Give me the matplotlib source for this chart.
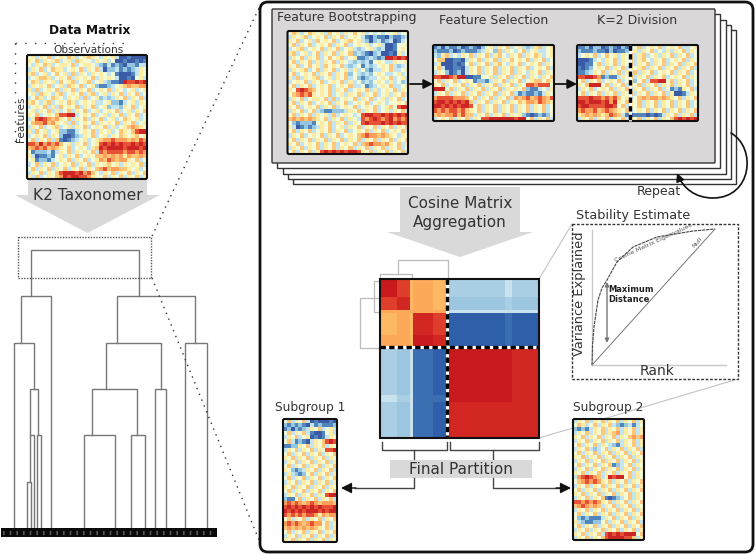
import numpy as np
import matplotlib
matplotlib.use("Agg")
import matplotlib.pyplot as plt
from matplotlib.colors import ListedColormap
from matplotlib.patches import Rectangle, FancyBboxPatch, Polygon, FancyArrowPatch
from matplotlib.path import Path

# Heatmaps: one digit per cell, 0 = dark blue, 4/5 = pale yellow, 9 = dark red
data_matrix = [
    "453546345465345654354530010000",
    "546354563453654435453400100101",
    "435465345546345543213121022133",
    "354634655345463546302231212354",
    "563453464536354354543410001354",
    "345665345463545463545430010453",
    "465354536456345634532110988989",
    "354546345365463452112345676677",
    "536345463546354634546354345345",
    "453654356345463563453546354634",
    "346534654354536345232354635463",
    "564356345465345453345221345354",
    "345463536454635463452332546345",
    "453546353463546345345463453546",
    "546345468899345463453546354634",
    "358987675463546354634534654534",
    "467786754536345463545463546345",
    "354634563453546345463534567654",
    "536453452211345463545346546899",
    "345463542001235463453546545645",
    "463546361012345345677877767687",
    "887978786453546345898989889898",
    "678786765463454356989999899989",
    "412223135463545463878888788787",
    "530112145354634546676767576676",
    "451221345463546345768767754634",
    "346354634546354635456453545463",
    "463546354635463546786776654534",
    "354635468999897864354635463546",
    "536345467989988754463546354635",
]
boot_matrix = [
    "465346545364535464534343445344",
    "354563454635463454310211021123",
    "546345364546345645320231230134",
    "463546345463546345453453001445",
    "345634546354634532345323001454",
    "563453463546354623210230010534",
    "354635463464563451123212998989",
    "463546353546354323231454335445",
    "546346453645463234132345463234",
    "354563463546345353421335463345",
    "463454635463546243232454334534",
    "536354563453546342123345463453",
    "345463546345463534232454353423",
    "463546345463454633412345463345",
    "548987645463546345463534546354",
    "467878545463453546354634535463",
    "354634554636345463546345354634",
    "463546345463546345463454344546",
    "546345463546345463454634564899",
    "354634632112223546354634535463",
    "463546354536345434899889898989",
    "676767654635463543878987897878",
    "421222145463546354898889898988",
    "530121235463453546354635463546",
    "463546345463546345463546345463",
    "354634546354634546787767654354",
    "463546354635463546354635463546",
    "546345463546345463678776754635",
    "354635463546354635463546354634",
    "463546358989898998546354635463",
]
select_matrix = [
    "120211201210245354634532356345",
    "211120121112354263543463453345",
    "325634354635463564354635465345",
    "466001103546354635464546354634",
    "350001014635463564354634546354",
    "463001103546354635463546345463",
    "354201203546354635463543546354",
    "889987990011445354635463543546",
    "463546345412213546354634566465",
    "546345463546354635463548878884",
    "999463546354635463545462113435",
    "354635463546354635463121121354",
    "788887776463546354637678678768",
    "899898989635463546354657768765",
    "998989899846354635463546354634",
    "878788786546354635463546354634",
    "676778686635463546354521012124",
    "345463546354889999998994635463",
]
k2_matrix = [
    "112022012102134634546345463345",
    "211121102011245354634353546354",
    "345463464535463563453546354634",
    "000134354635463564354634546354",
    "001146354635463546354635463546",
    "101245463546354563546354635463",
    "112354635463546354634546354634",
    "889987121135463546354634546354",
    "463546345463452463889946354634",
    "546999463546354635463546354634",
    "354634546354635463546341215463",
    "463546354635463546354635001354",
    "888988787864534676776765463546",
    "998999897954654635463546354634",
    "899888899846354635463546354634",
    "787786787654634546354635463546",
    "567676568763101110101354635463",
    "354635463546354635463546898989",
]
sub1_matrix = [
    "46354630100010",
    "21212103121112",
    "12021235463453",
    "46354631001453",
    "35463450101354",
    "46312103546898",
    "11225463546354",
    "35463546354889",
    "46354635463546",
    "54635463546354",
    "35463546354635",
    "46354635463546",
    "54212354635463",
    "35321246354635",
    "46354635463546",
    "35463546354635",
    "54635463546354",
    "46354635463546",
    "35463546354899",
    "21146354635463",
    "78787678767776",
    "89898989898889",
    "98989899989899",
    "87878788757677",
    "46354635463546",
    "78787678774635",
    "67676767654635",
    "46354635463546",
    "35463546354635",
    "54635463546354",
]
sub2_matrix = [
    "354635463546354635",
    "465346354632123134",
    "212135463546354635",
    "354635463567354635",
    "546354635463546767",
    "354635463546354635",
    "463546354321354635",
    "354632346354635463",
    "463546354635463546",
    "546354635463546354",
    "354635463546354635",
    "463546354612346354",
    "354635463546354635",
    "546354635463546354",
    "378987635989946354",
    "467878754635463546",
    "354635463546354635",
    "463546354635463546",
    "546354635463546354",
    "354635461012346354",
    "887878754635463546",
    "678767635463546354",
    "354635463546354635",
    "463546354635463546",
    "421211135463546354",
    "532112246354635463",
    "463546354635463546",
    "354635463546354635",
    "546354638989899946",
    "354635468999988635",
]
digit_levels = [0.06, 0.13, 0.26, 0.35, 0.46, 0.56, 0.65, 0.72, 0.84, 0.92]

# Aggregated cosine matrix, index into cosine_colors
cosine_colors = ["#2f5fa8", "#3c6fb2", "#9cc5df", "#aacfe4", "#c8e3ee",
                 "#fdb863", "#fca95a", "#de3e2b", "#d12622", "#c81a1c"]
cosine_values = [
    [9, 7, 5, 6, 5, 3, 4, 3],
    [7, 8, 5, 6, 5, 2, 3, 2],
    [6, 6, 6, 6, 6, 4, 4, 4],
    [5, 6, 5, 8, 7, 0, 1, 0],
    [6, 6, 5, 9, 8, 0, 1, 0],
    [3, 2, 4, 1, 0, 9, 9, 8],
    [4, 3, 4, 1, 1, 9, 9, 8],
    [3, 2, 4, 1, 0, 8, 8, 8],
]
cosine_x_edges = [380, 397, 410, 413, 433, 447, 505, 512, 539]
cosine_y_edges = [279, 297, 310, 313, 335, 347, 395, 402, 438]

# Dendrogram branches: left x, right x, top y, bottom y of the left leg, bottom y of the right leg
tree_branches = [
    (30.5, 139, 249.5, 296, 296),
    (20.5, 51, 296, 342.5, 528),
    (116.5, 195, 296, 342.5, 342.5),
    (13.5, 33.5, 342.5, 528, 389),
    (30, 38, 389, 435, 435),
    (29.5, 34, 435, 482, 528),
    (26.5, 30.5, 482, 528, 528),
    (37, 40.5, 435, 528, 528),
    (105.5, 161, 342.5, 389, 389),
    (185, 207, 342.5, 528, 528),
    (91.5, 136.5, 389, 435, 435),
    (155, 166, 389, 528, 528),
    (83.5, 114.5, 435, 528, 528),
    (130.5, 144.5, 435, 528, 528),
]

# Eigenvalue curve of the stability plot
eigen_x = [592, 592.5, 594, 598, 602, 607, 617, 633, 657, 693, 715]
eigen_y = [365, 345, 327, 300, 288, 280, 262, 247, 237, 231, 229]

text_col = "#333333"
grid_cmap = plt.get_cmap("RdYlBu_r")

fig = plt.figure(figsize=(7.56, 5.54), dpi=100)
ax = fig.add_axes([0, 0, 1, 1])
ax.axis("off")


def heat(rows, x0, x1, y0, y1):
    vals = np.array([[digit_levels[int(c)] for c in r] for r in rows])
    ax.imshow(vals, cmap=grid_cmap, vmin=0, vmax=1, extent=(x0, x1, y1, y0),
              aspect="auto", interpolation="nearest", zorder=3)
    ax.add_patch(FancyBboxPatch((x0, y0), x1 - x0, y1 - y0, boxstyle="round,pad=0,rounding_size=1.5",
                                fc="none", ec="#111111", lw=1.5, zorder=4))


def block_arrow(x0, x1, y0, y1, hx0, hx1, tip):
    mid = (x0 + x1) / 2
    ax.add_patch(Polygon([(x0, y0), (x1, y0), (x1, y1), (hx1, y1), (mid, tip), (hx0, y1), (x0, y1)],
                         fc="#d9d9d9", ec="none", zorder=2))


def arrow(x0, y0, x1, y1, lw=1.3, col="#111111", style="-|>", scale=14, z=5):
    ax.add_patch(FancyArrowPatch((x0, y0), (x1, y1), arrowstyle=style, mutation_scale=scale,
                                 lw=lw, color=col, shrinkA=0, shrinkB=0, zorder=z))


def dash_line(x0, y0, x1, y1):
    ax.plot([x0, x1], [y0, y1], color="white", lw=2.2, zorder=6, solid_capstyle="butt")
    ax.plot([x0, x1], [y0, y1], color="black", lw=2.4, ls=(0, (1.6, 1)), zorder=7)


def label(x, y, s, size=9, **kw):
    kw.setdefault("color", text_col)
    ax.text(x, y, s, fontsize=size, ha="center", va="center", zorder=8, **kw)


# Left column
label(90, 30, "Data Matrix", 8.8, fontweight="bold", color="#111111")
label(89, 50, "Observations", 7.6)
label(21, 119, "Features", 7.6, rotation=90)
ax.plot([15, 125], [43, 43], color="#333333", lw=1, ls=(0, (1, 6)))
ax.plot([15, 15], [43, 145], color="#333333", lw=1, ls=(0, (1, 6)))
heat(data_matrix, 27, 147, 55, 179)
block_arrow(28, 147, 179, 195, 15, 160, 233)
label(88, 195, "K2 Taxonomer", 11.2)

# Dendrogram
for xl, xr, top, bl, br in tree_branches:
    ax.plot([xl, xl, xr, xr], [bl, top, top, br], color="#777777", lw=1, solid_joinstyle="miter", zorder=2)
ax.add_patch(Rectangle((1, 528), 216, 9, fc="#0a0a0a", ec="none", zorder=3))
ax.plot([3, 215], [532.5, 532.5], color="#555555", lw=3, ls=(0, (0.4, 1.2)), zorder=4)
ax.add_patch(Rectangle((17.5, 236.5), 133.5, 41.5, fc="none", ec="#555555", lw=1, ls=(0, (1, 1)), zorder=4))

# Zoom lines to the main panel
ax.plot([152, 259], [236, 8], color="#333333", lw=1, ls=(0, (1, 3.5)), zorder=1)
ax.plot([152, 259], [278, 540], color="#333333", lw=1, ls=(0, (1, 3.5)), zorder=5)

# Main panel
ax.add_patch(FancyBboxPatch((260, 2), 493, 550, boxstyle="round,pad=0,rounding_size=8",
                            fc="white", ec="#111111", lw=2, zorder=1.5))

# Stacked panels
for i in [4, 3, 2, 1]:
    ax.add_patch(Rectangle((272 + 5.3 * i, 9 + 5.3 * i), 443, 154, fc="white", ec="#333333", lw=1, zorder=2))
ax.add_patch(FancyBboxPatch((272, 9), 443, 154, boxstyle="round,pad=0,rounding_size=1",
                            fc="#d9d7d7", ec="#333333", lw=1, zorder=2.5))
label(347, 18, "Feature Bootstrapping", 9)
label(494, 20, "Feature Selection", 9)
label(637, 20, "K=2 Division", 9)
heat(boot_matrix, 287.5, 408, 31, 154)
heat(select_matrix, 433, 554, 45, 121)
heat(k2_matrix, 577, 698, 45, 121)
dash_line(630, 45, 630, 121)
arrow(410, 84, 433, 84)
arrow(555, 84, 577, 84)

# Repeat loop
repeat_path = Path([(731, 133), (757, 148), (752, 198), (713, 198), (695, 198), (683, 188), (677, 173)],
                   [Path.MOVETO, Path.CURVE4, Path.CURVE4, Path.CURVE4, Path.CURVE4, Path.CURVE4, Path.CURVE4])
ax.add_patch(FancyArrowPatch(path=repeat_path, arrowstyle="-|>", mutation_scale=12, lw=1.2,
                             color="#111111", zorder=5))
label(659, 191, "Repeat", 9)

# Aggregation arrow
block_arrow(400, 520, 187, 232, 387, 533, 257)
label(460, 203, "Cosine Matrix", 11)
label(460, 223, "Aggregation", 11)

# Side dendrograms of the cosine matrix
side_col = "#bbbbbb"
ax.plot([398, 398, 448, 448], [274, 260, 260, 279], color=side_col, lw=0.9, zorder=2)
ax.plot([380, 380, 412, 412], [279, 274, 274, 279], color=side_col, lw=0.9, zorder=2)
ax.plot([380, 360, 360, 378], [298, 298, 348, 348], color=side_col, lw=0.9, zorder=2)
ax.plot([380, 374, 374, 380], [281, 281, 312, 312], color=side_col, lw=0.9, zorder=2)

# Cosine matrix
ax.pcolormesh(cosine_x_edges, cosine_y_edges, np.array(cosine_values),
              cmap=ListedColormap(cosine_colors), vmin=-0.5, vmax=9.5, zorder=3)
ax.add_patch(Rectangle((380, 279), 159, 159, fc="none", ec="#111111", lw=1.5, zorder=8))
dash_line(447, 279, 447, 438)
dash_line(380, 347, 539, 347)

# Stability estimate
ax.plot([539, 572], [279, 224], color="#c4c4c4", lw=0.8, zorder=2)
ax.plot([539, 738], [438, 379], color="#c4c4c4", lw=0.8, zorder=2)
ax.add_patch(Rectangle((572, 224), 166, 155, fc="white", ec="#333333", lw=1, ls=(0, (2, 1.2)), zorder=2.5))
label(633, 215, "Stability Estimate", 9.3)
ax.plot([592, 592], [230, 365], color="#c8c8c8", lw=1, zorder=3)
ax.plot([592, 726], [365, 365], color="#c8c8c8", lw=1, zorder=3)
ax.plot(eigen_x, eigen_y, color="#444444", lw=0.8, ls=(0, (3, 0.7)), zorder=4)
ax.plot([592, 715], [365, 229], color="#777777", lw=0.7, zorder=4)
label(653, 243, "Cosine Matrix Eigenvalues", 4.6, rotation=25, color="#555555")
label(697, 242, "Null", 4.6, rotation=48, color="#555555")
arrow(607, 282, 607, 343, lw=1, col="#777777", style="<|-|>", scale=6)
ax.text(608, 290, "Maximum", fontsize=6, fontweight="bold", va="center", color="#222222", zorder=8)
ax.text(608, 300, "Distance", fontsize=6, fontweight="bold", va="center", color="#222222", zorder=8)
label(580, 294, "Variance Explained", 9.4, rotation=90)
label(657, 371, "Rank", 10)

# Final partition
bracket_col = "#444444"
ax.plot([382, 382, 447, 447], [442, 450, 450, 442], color=bracket_col, lw=1, zorder=3)
ax.plot([450, 450, 539, 539], [442, 450, 450, 442], color=bracket_col, lw=1, zorder=3)
ax.plot([414, 414], [450, 460], color=bracket_col, lw=1, zorder=3)
ax.plot([493, 493], [450, 460], color=bracket_col, lw=1, zorder=3)
ax.add_patch(Rectangle((390, 460), 142, 18, fc="#d9d9d9", ec="none", zorder=3))
label(461, 469, "Final Partition", 11)
ax.plot([414, 414, 355], [478, 488, 488], color=bracket_col, lw=1, zorder=3)
ax.plot([493, 493, 560], [478, 488, 488], color=bracket_col, lw=1, zorder=3)
arrow(356, 488, 341, 488, scale=16, lw=1)
arrow(556, 488, 571, 488, scale=16, lw=1)
label(310, 407, "Subgroup 1", 8.8)
label(608, 407, "Subgroup 2", 8.8)
heat(sub1_matrix, 283, 337, 419, 542)
heat(sub2_matrix, 573, 644, 419, 540)

ax.set_xlim(0, 756)
ax.set_ylim(554, 0)
fig.savefig("out.png", dpi=100)
